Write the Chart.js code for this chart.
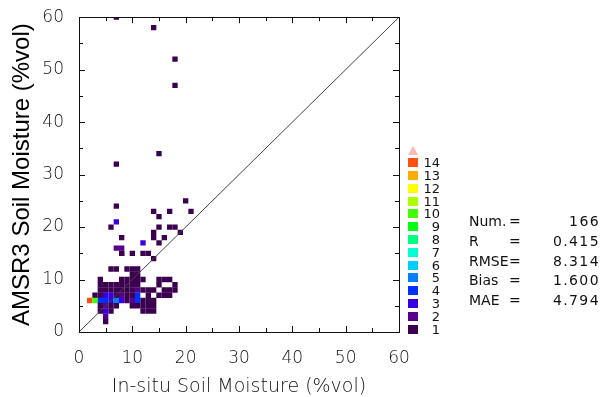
<!DOCTYPE html>
<html>
<head>
<meta charset="utf-8">
<script src="https://cdn.jsdelivr.net/npm/chart.js@4.4.1/dist/chart.umd.min.js"></script>
<style>
    html, body { margin: 0; padding: 0; background: #fff; }
    #wrap { position: relative; width: 603px; height: 397px; overflow: hidden; }
    #c { position: absolute; left: 0; top: 0; }
    .bar-label { position: absolute; width: 30px; text-align: right; font: 13px "DejaVu Sans"; color: #111; line-height: 13px; }
    .swatch { position: absolute; width: 10px; height: 9px; }
    .stat { position: absolute; font: 14px "DejaVu Sans"; color: #111; line-height: 16px; white-space: pre; }
</style>
</head>
<body>
<div id="wrap">
    <canvas id="c" width="603" height="397"></canvas>
</div>
<script>
// 2D histogram cells: bin centre (in-situ, AMSR3) and number of samples in the cell
const cellX = [7, 14, 18, 18, 15, 7, 7, 20, 14, 17, 21, 15, 7, 6, 15, 17, 18, 19, 14, 8, 14, 16, 15, 12, 7, 8, 8,
    8, 10, 12, 13, 14,
    6, 7, 9, 10, 11,
    10, 11,
    4, 8, 9, 10, 11, 12, 15, 16, 17,
    4, 5, 6, 7, 8, 9, 10, 11, 15, 18,
    4, 5, 6, 7, 8, 9, 10, 11, 12, 13, 14, 16, 17, 18,
    3, 4, 5, 6, 7, 8, 9, 10, 11, 13, 15, 16, 17,
    2, 3, 4, 5, 6, 7, 8, 9, 10, 11, 12, 13, 14,
    4, 5, 6, 7, 10, 11, 12, 13, 14,
    4, 5, 6, 12, 13, 14,
    5, 5];
const cellY = [60, 58, 52, 47, 34, 32, 24, 25, 23, 23, 23, 22, 21, 20, 20, 20, 20, 19, 19, 18, 18, 18, 17, 17, 16, 16, 15,
    15, 15, 15, 15, 14,
    12, 12, 12, 12, 12,
    11, 11,
    10, 10, 10, 10, 10, 10, 10, 10, 10,
    9, 9, 9, 9, 9, 9, 9, 9, 9, 9,
    8, 8, 8, 8, 8, 8, 8, 8, 8, 8, 8, 8, 8, 8,
    7, 7, 7, 7, 7, 7, 7, 7, 7, 7, 7, 7, 7,
    6, 6, 6, 6, 6, 6, 6, 6, 6, 6, 6, 6, 6,
    5, 5, 5, 5, 5, 5, 5, 5, 5,
    4, 4, 4, 4, 4, 4,
    3, 2];
const cellCount = [1, 1, 1, 1, 1, 1, 1, 1, 1, 1, 1, 1, 3, 1, 1, 1, 1, 1, 1, 1, 1, 1, 1, 3, 2, 2, 2,
    1, 1, 1, 1, 1,
    1, 1, 1, 1, 1,
    1, 1,
    1, 1, 1, 1, 1, 1, 1, 1, 1,
    1, 1, 1, 1, 1, 1, 1, 1, 1, 1,
    1, 1, 1, 1, 1, 1, 1, 2, 1, 1, 1, 1, 1, 1,
    1, 1, 3, 3, 1, 2, 1, 1, 4, 1, 1, 1, 1,
    14, 10, 4, 4, 3, 5, 3, 1, 2, 4, 1, 1, 1,
    1, 2, 1, 1, 1, 1, 1, 1, 1,
    1, 3, 1, 1, 1, 1,
    2, 1];

// colour bar: counts 1..14
const countLevels = [1, 2, 3, 4, 5, 6, 7, 8, 9, 10, 11, 12, 13, 14];
const levelColors = ['#3c0050', '#56008c', '#3800e0', '#0030ff', '#0080ff', '#00ccff', '#00ffd4', '#00ff80',
    '#00ff10', '#44ff00', '#aaff00', '#ffff00', '#ffaa00', '#ff5010'];
const overColor = '#ffb8b8';

const axisTicks = [0, 10, 20, 30, 40, 50, 60];
const statNames = ['Num.', 'R', 'RMSE', 'Bias', 'MAE'];
const statValues = ['166', '0.415', '8.314', '1.600', '4.794'];

const oneToOne = [{ x: 0, y: 0 }, { x: 60, y: 60 }];

function cellRadius(chart) {
    const xs = chart.scales.x;
    const side = xs.getPixelForValue(1) - xs.getPixelForValue(0);
    return side / 2 / Math.SQRT1_2;
}

// frame with inward ticks on all four sides
const framePlugin = {
    id: 'frame',
    afterDatasetsDraw(chart) {
        const { ctx, chartArea: a, scales } = chart;
        ctx.save();
        ctx.strokeStyle = '#111';
        ctx.lineWidth = 1;
        ctx.strokeRect(Math.round(a.left) + 0.5, Math.round(a.top) + 0.5,
            Math.round(a.right - a.left), Math.round(a.bottom - a.top));
        ctx.beginPath();
        for (let v = 0; v <= 60; v += 5) {
            const len = v % 10 === 0 ? 6 : 4;
            const px = Math.round(scales.x.getPixelForValue(v)) + 0.5;
            const py = Math.round(scales.y.getPixelForValue(v)) + 0.5;
            ctx.moveTo(px, a.bottom); ctx.lineTo(px, a.bottom - len);
            ctx.moveTo(px, a.top); ctx.lineTo(px, a.top + len);
            ctx.moveTo(a.left, py); ctx.lineTo(a.left + len, py);
            ctx.moveTo(a.right, py); ctx.lineTo(a.right - len, py);
        }
        ctx.stroke();
        ctx.restore();
    }
};

const tickFont = { family: 'DejaVu Sans', size: 17, weight: 200 };

new Chart(document.getElementById('c'), {
    type: 'scatter',
    data: {
        datasets: [
            {
                type: 'line',
                data: oneToOne,
                borderColor: '#444',
                borderWidth: 1,
                pointRadius: 0,
                clip: 0,
                order: 0
            },
            {
                data: cellX.map((x, k) => ({ x, y: cellY[k] })),
                pointStyle: 'rect',
                pointRadius: ctx => cellRadius(ctx.chart),
                pointHoverRadius: ctx => cellRadius(ctx.chart),
                pointBorderWidth: 0,
                pointBackgroundColor: ctx => levelColors[cellCount[ctx.dataIndex] - 1],
                clip: 0,
                order: 1
            }
        ]
    },
    options: {
        responsive: false,
        animation: false,
        events: [],
        layout: { padding: { top: 14, right: 204, left: 0, bottom: 0 } },
        plugins: { legend: { display: false }, tooltip: { enabled: false } },
        scales: {
            x: {
                type: 'linear',
                min: 0,
                max: 60,
                afterFit: s => { s.height = 65; },
                afterBuildTicks: s => { s.ticks = axisTicks.map(v => ({ value: v })); },
                grid: { display: false },
                border: { display: false },
                ticks: { color: '#111', font: tickFont, padding: 8, maxRotation: 0 },
                title: {
                    display: true,
                    text: 'In-situ Soil Moisture (%vol)',
                    color: '#111',
                    font: { family: 'DejaVu Sans', size: 19, weight: 200, lineHeight: 1 },
                    padding: { top: 0, bottom: 0 }
                }
            },
            y: {
                type: 'linear',
                min: 0,
                max: 60,
                afterFit: s => { s.width = 79; },
                afterBuildTicks: s => { s.ticks = axisTicks.map(v => ({ value: v })); },
                grid: { display: false },
                border: { display: false },
                ticks: { color: '#111', font: tickFont, padding: 7 },
                title: {
                    display: true,
                    text: 'AMSR3 Soil Moisture (%vol)',
                    color: '#000',
                    font: { family: 'Liberation Sans', size: 24, lineHeight: 1 },
                    padding: { top: 10, bottom: 0 }
                }
            }
        }
    },
    plugins: [framePlugin]
});

// colour bar and statistics
const wrap = document.getElementById('wrap');
countLevels.forEach((lv, k) => {
    const cy = 162.7 + (14 - lv) * 12.8;
    const sw = document.createElement('div');
    sw.className = 'swatch';
    sw.style.left = '408px';
    sw.style.top = (cy - 4.5) + 'px';
    sw.style.background = levelColors[k];
    wrap.appendChild(sw);
    const lb = document.createElement('div');
    lb.className = 'bar-label';
    lb.style.left = '410px';
    lb.style.top = (cy - 6.5) + 'px';
    lb.textContent = lv;
    wrap.appendChild(lb);
});
const tri = document.createElement('div');
tri.style.cssText = 'position:absolute;left:408px;top:146px;width:0;height:0;' +
    'border-left:5px solid transparent;border-right:5px solid transparent;border-bottom:9px solid ' + overColor + ';';
wrap.appendChild(tri);

statNames.forEach((name, k) => {
    const top = 213 + k * 19.8;
    const a = document.createElement('div');
    a.className = 'stat';
    a.style.left = '469px';
    a.style.top = top + 'px';
    a.textContent = name;
    wrap.appendChild(a);
    const eq = document.createElement('div');
    eq.className = 'stat';
    eq.style.left = '509px';
    eq.style.top = top + 'px';
    eq.textContent = '=';
    wrap.appendChild(eq);
    const v = document.createElement('div');
    v.className = 'stat';
    v.style.left = '520px';
    v.style.width = '80px';
    v.style.textAlign = 'right';
    v.style.letterSpacing = '1.4px';
    v.style.top = top + 'px';
    v.textContent = statValues[k];
    wrap.appendChild(v);
});
</script>
</body>
</html>
